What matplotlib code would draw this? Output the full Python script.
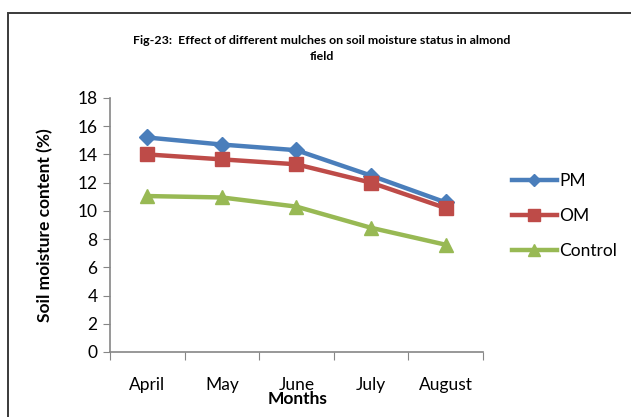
import matplotlib
matplotlib.use("Agg")
import matplotlib.pyplot as plt
from matplotlib.patches import Rectangle
from matplotlib.lines import Line2D

months = ["April", "May", "June", "July", "August"]
pm = [15.2, 14.7, 14.3, 12.5, 10.6]
om = [14.0, 13.65, 13.3, 12.0, 10.2]
control = [11.05, 10.95, 10.3, 8.8, 7.6]

plt.rcParams["font.family"] = ["Lato", "DejaVu Sans"]

fig = plt.figure(figsize=(6.31, 4.17), dpi=100)
ax = fig.add_axes([0.1743, 0.156, 0.591, 0.609])

x = range(len(months))
ax.plot(x, pm, color="#4A7EBB", lw=3.2, marker="D", ms=8, label="PM")
ax.plot(x, om, color="#BE4B48", lw=3.2, marker="s", ms=10, label="OM")
ax.plot(x, control, color="#98B954", lw=3.2, marker="^", ms=10, label="Control")

ax.set_xlim(-0.5, 4.5)
ax.set_ylim(0, 18)
ax.set_yticks(range(0, 19, 2))
ax.set_xticks([i - 0.5 for i in range(6)], minor=False)
ax.set_xticklabels([])
ax.set_xticks(list(x), minor=True)
ax.set_xticklabels(months, minor=True, fontsize=12.5)
ax.tick_params(axis="x", which="minor", length=0, pad=18)
ax.tick_params(axis="x", which="major", length=6, color="#868686", direction="out")
ax.tick_params(axis="y", length=5, color="#868686", labelsize=12.5, pad=4)

for side in ("top", "right"):
    ax.spines[side].set_visible(False)
for side in ("left", "bottom"):
    ax.spines[side].set_color("#868686")
    ax.spines[side].set_linewidth(1.2)

fig.text(0.071, 0.46, "Soil moisture content (%)", rotation=90, ha="center", va="center",
         fontsize=12.5, fontweight="bold")
fig.text(0.471, 0.044, "Months", ha="center", va="center", fontsize=12.5, fontweight="bold")

fig.text(0.51, 0.883, "Fig-23:  Effect of different mulches on soil moisture status in almond\nfield",
         ha="center", va="center", fontsize=8.9, fontweight="bold", linespacing=1.55)

handles = [
    Line2D([], [], color="#4A7EBB", lw=3.2, marker="D", ms=6),
    Line2D([], [], color="#BE4B48", lw=3.2, marker="s", ms=8),
    Line2D([], [], color="#98B954", lw=3.2, marker="^", ms=8),
]
ax.legend(handles, ["PM", "OM", "Control"], loc="center left", bbox_to_anchor=(1.035, 0.535),
          frameon=False, fontsize=12.5, handlelength=2.6, labelspacing=1.1, handletextpad=0.15)

# outer chart frame, running off the right and bottom edges
fig.patches.append(Rectangle((0.0127, -0.2), 1.5, 0.9688 + 0.2, transform=fig.transFigure,
                             fill=False, edgecolor="#3a3a3a", lw=1.4, clip_on=False))

fig.savefig("out.png", dpi=100)
